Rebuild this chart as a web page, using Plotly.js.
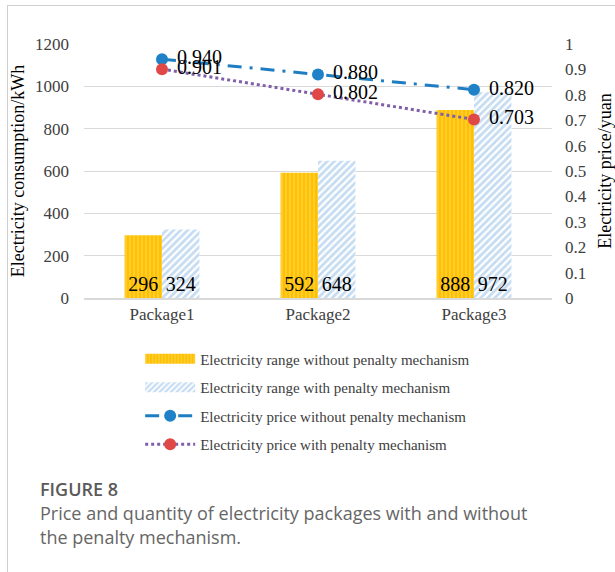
<!DOCTYPE html>
<html>
<head>
<meta charset="utf-8">
<script src="https://cdn.plot.ly/plotly-3.0.1.min.js"></script>
<style>
  html, body { margin: 0; padding: 0; background: #fff; }
  #wrap { position: relative; width: 615px; height: 572px; overflow: hidden; }
  #frame { position: absolute; left: 7px; top: 5px; width: 640px; height: 600px;
           border-left: 1px solid #cfcfcf; border-top: 1px solid #cfcfcf; }
  #chart { position: absolute; left: 0; top: 0; width: 615px; height: 572px; }
  .cap { position: absolute; left: 40px; font-family: "Open Sans", "Noto Sans", sans-serif; color: #666; white-space: nowrap; }
  #chart .xtick text, #chart .ytick text, #chart .y2tick text { font-family: "Liberation Serif", serif !important; }
</style>
</head>
<body>
<div id="wrap">
  <div id="frame"></div>
  <div id="chart"></div>
  <div class="cap" style="top:477px;font-size:18px;line-height:24px;font-weight:600;color:#5a5a5a;">FIGURE 8</div>
  <div class="cap" style="top:501px;font-size:18px;line-height:24px;">Price and quantity of electricity packages with and without<br>the penalty mechanism.</div>
</div>
<script>
const categories = ["Package1", "Package2", "Package3"];
const rangeWithout = [296, 592, 888];
const rangeWith = [324, 648, 972];
const priceWithout = [0.940, 0.880, 0.820];
const priceWith = [0.901, 0.802, 0.703];
const seriesNames = [
  "Electricity range without penalty mechanism",
  "Electricity range with penalty mechanism",
  "Electricity price without penalty mechanism",
  "Electricity price with penalty mechanism"
];

const serif = "Liberation Serif";
const txtFont = { family: serif, size: 20, color: "#000" };
const gap = "\u00a0\u00a0\u00a0";
const traces = [
  {
    type: "bar", x: categories, y: rangeWithout, name: seriesNames[0], legendgroup: "a",
    marker: { color: "#FFC000", line: { width: 0 },
      pattern: { shape: "|", bgcolor: "#FFC000", fgcolor: "#FFE38A", size: 4, solidity: 0.35, fillmode: "overlay" } },
    text: rangeWithout.map(String), textposition: "inside", insidetextanchor: "start",
    textfont: txtFont, insidetextfont: txtFont
  },
  {
    type: "bar", x: categories, y: rangeWith, name: seriesNames[1], legendgroup: "b",
    marker: { color: "#8DBAE3", line: { width: 0 },
      pattern: { shape: "/", bgcolor: "#ffffff", fgcolor: "#8DBAE3", size: 5, solidity: 0.55, fillmode: "overlay" } },
    text: rangeWith.map(String), textposition: "inside", insidetextanchor: "start",
    textfont: txtFont, insidetextfont: txtFont
  },
  {
    type: "scatter", mode: "lines+markers", x: categories, y: priceWithout, yaxis: "y2",
    name: seriesNames[2], legendgroup: "c",
    line: { color: "#1F7EC1", width: 3, dash: "14px,8px,3px,8px" },
    marker: { color: "#1F82C8", size: 12 }
  },
  {
    type: "scatter", mode: "lines+markers", x: categories, y: priceWith, yaxis: "y2",
    name: seriesNames[3], legendgroup: "d",
    line: { color: "#7F5FA8", width: 3, dash: "dot" },
    marker: { color: "#E04848", size: 12 }
  },
  {
    type: "scatter", mode: "text", x: categories, y: priceWithout, yaxis: "y2", showlegend: false,
    text: priceWithout.map(v => gap + v.toFixed(3)), textposition: "middle right",
    textfont: txtFont, hoverinfo: "skip", cliponaxis: false
  },
  {
    type: "scatter", mode: "text", x: categories, y: priceWith, yaxis: "y2", showlegend: false,
    text: priceWith.map(v => gap + v.toFixed(3)), textposition: "middle right",
    textfont: txtFont, hoverinfo: "skip", cliponaxis: false
  }
];

const tickF = { family: serif, size: 17, color: "#404040" };
const layout = {
  width: 615, height: 572,
  margin: { l: 84, r: 63, t: 44, b: 274 },
  paper_bgcolor: "rgba(0,0,0,0)", plot_bgcolor: "rgba(0,0,0,0)",
  font: { family: serif, color: "#404040" },
  barmode: "group", bargap: 0.52, bargroupgap: 0,
  showlegend: true,
  legend: { x: 0.12, y: -0.175, xanchor: "left", yanchor: "top", orientation: "v",
    font: { family: serif, size: 15, color: "#404040" }, tracegroupgap: 6,
    itemwidth: 50, bgcolor: "rgba(0,0,0,0)" },
  xaxis: {
    type: "category", tickfont: tickF,
    showline: true, linecolor: "#d9d9d9", linewidth: 2, ticks: "", showgrid: false
  },
  yaxis: {
    range: [0, 1200], dtick: 200, tickfont: tickF,
    gridcolor: "#d9d9d9", gridwidth: 1, zeroline: false, ticks: "", ticklabelstandoff: 14,
    title: { text: "Electricity consumption/kWh", font: { family: serif, size: 18, color: "#000" }, standoff: 5 }
  },
  yaxis2: {
    range: [0, 1], overlaying: "y", side: "right", showgrid: false, zeroline: false,
    tickfont: tickF, ticks: "", ticklabelstandoff: 12,
    tickvals: [0, 0.1, 0.2, 0.3, 0.4, 0.5, 0.6, 0.7, 0.8, 0.9, 1],
    ticktext: ["0", "0.1", "0.2", "0.3", "0.4", "0.5", "0.6", "0.7", "0.8", "0.9", "1"],
    title: { text: "Electricity price/yuan", font: { family: serif, size: 18, color: "#000" }, standoff: 12 }
  }
};

Plotly.newPlot("chart", traces, layout, { displayModeBar: false, staticPlot: true }).then(function (gd) {
  // widen the bar legend swatches to match the reference's wide patterned rectangles
  const items = gd.querySelectorAll(".legend .traces");
  for (let i = 0; i < 2 && i < items.length; i++) {
    items[i].querySelectorAll(".legendpoints path").forEach(function (p) {
      p.setAttribute("d", "M25,5H-25V-5H25Z");
    });
  }
});
</script>
</body>
</html>
